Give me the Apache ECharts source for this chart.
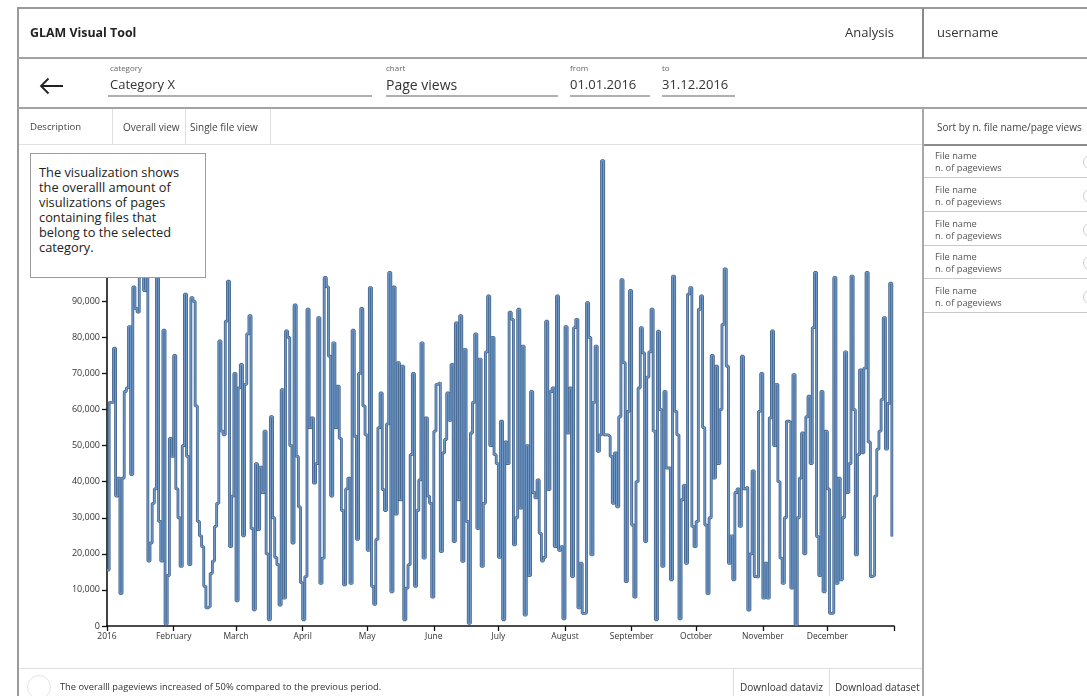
<!DOCTYPE html>
<html><head><meta charset="utf-8">
<script src="https://cdn.jsdelivr.net/npm/echarts/dist/echarts.min.js"></script>
<style>
body{margin:0;width:1087px;height:696px;overflow:hidden;background:#fff;font-family:"Open Sans","Noto Sans",sans-serif;color:#333;position:relative}
.t{position:absolute;white-space:nowrap;line-height:1;z-index:3}
.l{position:absolute;z-index:3}
#chart{position:absolute;left:0;top:0;width:1087px;height:696px;z-index:1}
#desc{position:absolute;left:30px;top:153px;width:166px;height:112px;border:1px solid #9c9c9c;background:#fff;z-index:4;padding:11px 0 0 8px;font-size:12.8px;line-height:15px;color:#222}
.circ{position:absolute;border:1px solid #ccc;border-radius:50%;z-index:3}
</style></head>
<body>
<div id="chart"></div>

<!-- frame lines -->
<div class="l" style="left:17px;top:7px;width:1070px;height:2px;background:#9a9a9a"></div>
<div class="l" style="left:17px;top:7px;width:2px;height:689px;background:#9a9a9a"></div>
<div class="l" style="left:17px;top:57px;width:1070px;height:2px;background:#a3a3a3"></div>
<div class="l" style="left:17px;top:107px;width:1070px;height:2px;background:#a3a3a3"></div>
<div class="l" style="left:922px;top:8px;width:2px;height:50px;background:#8a8a8a"></div>
<div class="l" style="left:922px;top:108px;width:2px;height:588px;background:#a8a8a8"></div>
<div class="l" style="left:19px;top:144px;width:903px;height:1px;background:#e0e0e0"></div>
<div class="l" style="left:924px;top:144px;width:163px;height:2px;background:#8c8c8c"></div>
<div class="l" style="left:112px;top:109px;width:1px;height:35px;background:#e0e0e0"></div>
<div class="l" style="left:185px;top:109px;width:1px;height:35px;background:#e0e0e0"></div>
<div class="l" style="left:270px;top:109px;width:1px;height:35px;background:#e0e0e0"></div>
<div class="l" style="left:19px;top:668px;width:903px;height:1px;background:#e0e0e0"></div>
<div class="l" style="left:733px;top:669px;width:1px;height:27px;background:#e0e0e0"></div>
<div class="l" style="left:829px;top:669px;width:1px;height:27px;background:#e0e0e0"></div>
<div class="l" style="left:924px;top:177px;width:163px;height:1px;background:#c8c8c8"></div>
<div class="l" style="left:924px;top:211px;width:163px;height:1px;background:#c8c8c8"></div>
<div class="l" style="left:924px;top:245px;width:163px;height:1px;background:#c8c8c8"></div>
<div class="l" style="left:924px;top:278px;width:163px;height:1px;background:#c8c8c8"></div>
<div class="l" style="left:924px;top:312px;width:163px;height:1px;background:#c8c8c8"></div>

<!-- underlines -->
<div class="l" style="left:108px;top:95px;width:264px;height:2px;background:#b0b0b0"></div>
<div class="l" style="left:386px;top:95px;width:172px;height:2px;background:#b0b0b0"></div>
<div class="l" style="left:570px;top:95px;width:80px;height:2px;background:#b0b0b0"></div>
<div class="l" style="left:662px;top:95px;width:73px;height:2px;background:#b0b0b0"></div>

<!-- header texts -->
<div class="t" style="left:30px;top:26.5px;font-size:12.4px;font-weight:bold;color:#222">GLAM Visual Tool</div>
<div class="t" style="left:845px;top:26px;font-size:13px;color:#333">Analysis</div>
<div class="t" style="left:937px;top:26px;font-size:13px;color:#333">username</div>

<svg class="l" style="left:0;top:0" width="80" height="110"><path d="M41 86 H63 M48.5 78.5 L41 86 L48.5 93.5" fill="none" stroke="#222" stroke-width="1.8"/></svg>

<div class="t" style="left:110px;top:63.5px;font-size:8px;color:#666">category</div>
<div class="t" style="left:110px;top:78px;font-size:13px;color:#333">Category X</div>
<div class="t" style="left:386px;top:63.5px;font-size:8px;color:#666">chart</div>
<div class="t" style="left:386px;top:77.5px;font-size:14px;color:#333">Page views</div>
<div class="t" style="left:570px;top:63.5px;font-size:8px;color:#666">from</div>
<div class="t" style="left:570px;top:78px;font-size:13px;color:#333">01.01.2016</div>
<div class="t" style="left:662px;top:63.5px;font-size:8px;color:#666">to</div>
<div class="t" style="left:662px;top:78px;font-size:13px;color:#333">31.12.2016</div>

<div class="t" style="left:30px;top:121.5px;font-size:9.6px;color:#444">Description</div>
<div class="t" style="left:123px;top:121.5px;font-size:10px;color:#444">Overall view</div>
<div class="t" style="left:190px;top:121.5px;font-size:10px;color:#444">Single file view</div>
<div class="t" style="left:937px;top:121.5px;font-size:10px;color:#444">Sort by n. file name/page views</div>

<div class="t" style="left:935px;top:150.5px;font-size:9.3px;color:#555">File name</div>
<div class="t" style="left:935px;top:162.5px;font-size:9.3px;color:#555">n. of pageviews</div>
<div class="t" style="left:935px;top:184.5px;font-size:9.3px;color:#555">File name</div>
<div class="t" style="left:935px;top:196.5px;font-size:9.3px;color:#555">n. of pageviews</div>
<div class="t" style="left:935px;top:218.5px;font-size:9.3px;color:#555">File name</div>
<div class="t" style="left:935px;top:230.5px;font-size:9.3px;color:#555">n. of pageviews</div>
<div class="t" style="left:935px;top:251.5px;font-size:9.3px;color:#555">File name</div>
<div class="t" style="left:935px;top:263.5px;font-size:9.3px;color:#555">n. of pageviews</div>
<div class="t" style="left:935px;top:285.5px;font-size:9.3px;color:#555">File name</div>
<div class="t" style="left:935px;top:297.5px;font-size:9.3px;color:#555">n. of pageviews</div>
<div class="circ" style="left:1083px;top:155px;width:12px;height:12px"></div>
<div class="circ" style="left:1083px;top:189px;width:12px;height:12px"></div>
<div class="circ" style="left:1083px;top:223px;width:12px;height:12px"></div>
<div class="circ" style="left:1083px;top:256px;width:12px;height:12px"></div>
<div class="circ" style="left:1083px;top:290px;width:12px;height:12px"></div>

<div class="circ" style="left:27px;top:675px;width:22px;height:22px;border-color:#e2e2e2"></div>
<div class="t" style="left:60px;top:682px;font-size:9.3px;color:#333">The overalll pageviews increased of 50% compared to the previous period.</div>
<div class="t" style="left:740px;top:682px;font-size:10px;color:#333">Download dataviz</div>
<div class="t" style="left:835px;top:682px;font-size:10px;color:#333">Download dataset</div>

<div id="desc">The visualization shows<br>the overalll amount of<br>visulizations of pages<br>containing files that<br>belong to the selected<br>category.</div>

<script>
// daily page views 2016
var jan = [15500, 62000, 62000, 77000, 36000, 41000, 9000, 41000, 65000, 66000, 83000, 42000, 94000, 88000, 87000, 99000, 104000, 93000, 100000, 18000, 23000, 34000, 38000, 97000, 29000, 18000, 82000, 500, 14000, 52000, 47000];
var feb = [75000, 38000, 30000, 16500, 50000, 92000, 47000, 17000, 91000, 90000, 61000, 29000, 25000, 22000, 11000, 5000, 5500, 14600, 18000, 27600, 34000, 79000, 54000, 53000, 84500, 95600, 22000, 36000, 70000];
var mar = [7000, 66000, 72500, 25000, 67000, 81000, 86000, 27000, 4500, 45000, 26700, 44000, 37000, 54000, 20000, 1700, 58000, 30000, 19000, 17000, 5800, 65500, 7700, 81800, 80000, 50000, 23000, 89000, 47000, 33000, 12000];
var apr = [1700, 13700, 87800, 55000, 57700, 39600, 45000, 85500, 11800, 18800, 96600, 94000, 74800, 36000, 78500, 55000, 66500, 52000, 32000, 11400, 38000, 41000, 11800, 82000, 52600, 24000, 70000, 88000, 61000, 53000];
var may = [21000, 93800, 11000, 6000, 24000, 55000, 64600, 37800, 32000, 56000, 98000, 9500, 94000, 31000, 73000, 35000, 72000, 1700, 10500, 17000, 47500, 70000, 11000, 32000, 40500, 78500, 18800, 57700, 36000, 34000, 8000];
var jun = [54000, 67000, 67500, 20600, 48000, 51700, 64600, 57000, 72500, 23400, 84000, 35000, 86000, 17900, 76700, 29000, 700, 53500, 62000, 81000, 27000, 74000, 16500, 34000, 76000, 91500, 50000, 80000, 47500, 45000];
var jul = [19000, 56800, 1700, 51000, 45000, 87000, 85000, 22500, 30000, 87800, 32700, 77600, 3000, 50000, 14000, 65000, 37000, 35500, 40500, 25700, 18000, 19000, 84500, 37800, 65000, 66000, 22000, 91500, 21000, 22000, 2000];
var aug = [83000, 53500, 66000, 13700, 82700, 85000, 5000, 17400, 3500, 3600, 89600, 80000, 19700, 62000, 77600, 48400, 53000, 129000, 53000, 53000, 52500, 47000, 34000, 48000, 33000, 58000, 96000, 73000, 12300, 59500, 93000];
var sep = [28000, 8000, 40000, 66000, 82700, 75700, 23400, 69000, 76000, 87800, 54000, 1700, 81700, 60000, 16500, 65000, 43800, 43800, 12800, 97000, 59500, 53000, 2000, 35000, 39000, 17400, 92000, 93800, 27600, 22000];
var oct = [29000, 87800, 91500, 55000, 28000, 9000, 30000, 75000, 41000, 72000, 45000, 60000, 83600, 99000, 72000, 17400, 25000, 12800, 37000, 38000, 27600, 74800, 38000, 38500, 4400, 20000, 43000, 13700, 13500, 59500, 70000];
var nov = [7700, 17400, 7700, 57700, 81800, 50000, 67000, 40000, 18800, 11800, 30000, 56800, 56500, 10500, 69700, 300, 30000, 41000, 53500, 20000, 58000, 63700, 45000, 82700, 98000, 24800, 14000, 65000, 9500, 54000];
var dec = [38000, 3500, 3600, 96600, 11800, 41000, 12800, 30000, 76000, 37000, 45000, 97000, 60000, 19700, 47500, 71000, 48000, 71500, 98000, 51000, 13700, 14000, 36000, 49000, 54000, 62800, 85500, 49000, 61700, 95000, 24800];

var monthLabels = ['2016', 'February', 'March', 'April', 'May', 'June', 'July', 'August', 'September', 'October', 'November', 'December'];
var yTicks = {min: 0, max: 130000, interval: 10000};

var values = [].concat(jan, feb, mar, apr, may, jun, jul, aug, sep, oct, nov, dec);

// categories: every day of 2016 plus 1 Jan 2017 (axis end)
var days = [];
(function(){
  var d = new Date(Date.UTC(2016, 0, 1));
  while (true) {
    days.push(d.toISOString().slice(0, 10));
    if (d.getUTCFullYear() === 2017) break;
    d = new Date(d.getTime() + 86400000);
  }
})();
function isTick(i) {
  return !!days[i] && (days[i].slice(8) === '01');
}

var chart = echarts.init(document.getElementById('chart'), null, {renderer: 'canvas'});
chart.setOption({
  animation: false,
  grid: {left: 107, right: 193, top: 157, bottom: 70},
  xAxis: {
    type: 'category',
    data: days,
    boundaryGap: false,
    axisLine: {lineStyle: {color: '#111', width: 1.6}},
    axisTick: {show: true, length: 5, interval: function(i){ return isTick(i); }, lineStyle: {color: '#111', width: 1.3}},
    axisLabel: {
      interval: function(i){ return isTick(i); },
      margin: 6,
      fontSize: 8.5,
      color: '#333',
      fontFamily: 'Open Sans',
      formatter: function(v){
        if (v.slice(0, 4) !== '2016') return '';
        return monthLabels[parseInt(v.slice(5, 7), 10) - 1];
      }
    },
    splitLine: {show: false}
  },
  yAxis: {
    type: 'value',
    min: yTicks.min, max: yTicks.max, interval: yTicks.interval,
    axisLine: {show: true, lineStyle: {color: '#111', width: 1.6}},
    axisTick: {show: true, length: 5, lineStyle: {color: '#111', width: 1.3}},
    axisLabel: {
      margin: 7, fontSize: 9, color: '#333', fontFamily: 'Open Sans',
      formatter: function(v){ return v.toLocaleString('en-US'); }
    },
    splitLine: {show: false}
  },
  series: [{
    type: 'line',
    step: 'end',
    data: values,
    showSymbol: false,
    lineStyle: {color: '#3c5d86', width: 2.8},
    z: 3
  }, {
    type: 'line',
    step: 'end',
    data: values,
    showSymbol: false,
    lineStyle: {color: '#6e97c5', width: 1.4},
    z: 4
  }]
});
</script>
</body></html>
